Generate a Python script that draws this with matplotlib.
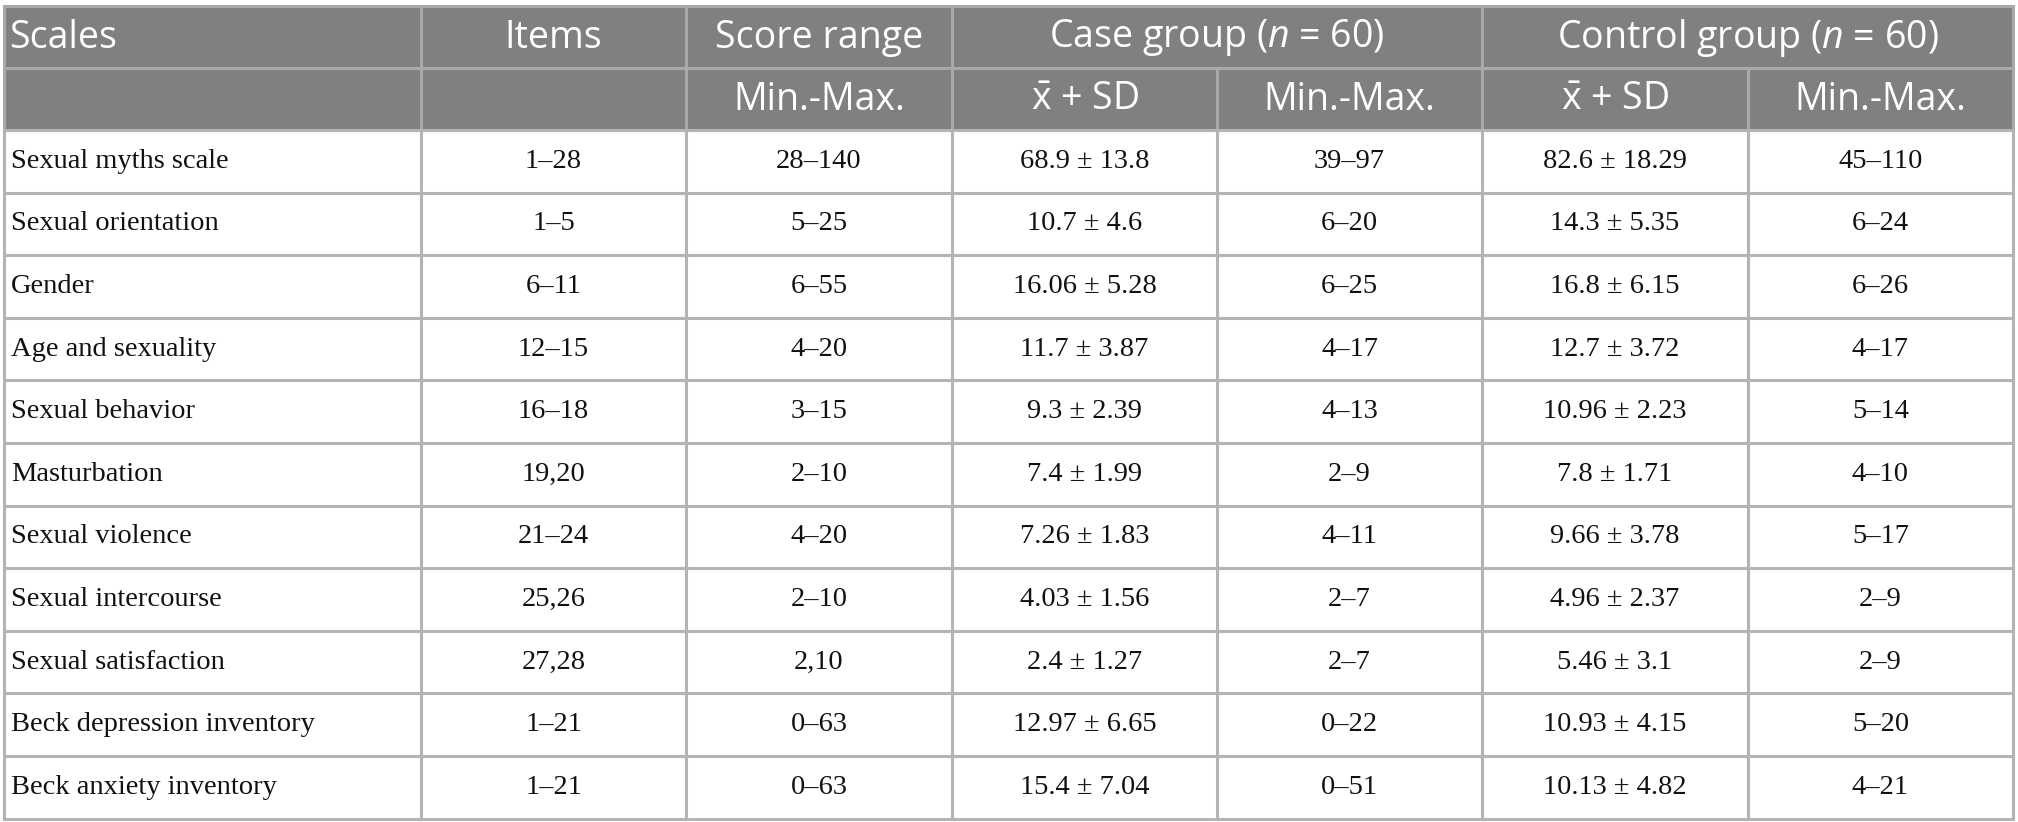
import matplotlib.pyplot as plt
from matplotlib.patches import Rectangle

plt.rcParams['mathtext.fontset'] = 'custom'
plt.rcParams['mathtext.rm'] = 'Open Sans'
plt.rcParams['mathtext.it'] = 'Open Sans:italic'

# table contents
scales = ["Sexual myths scale", "Sexual orientation", "Gender", "Age and sexuality",
          "Sexual behavior", "Masturbation", "Sexual violence", "Sexual intercourse",
          "Sexual satisfaction", "Beck depression inventory", "Beck anxiety inventory"]
items = ["1–28", "1–5", "6–11", "12–15", "16–18", "19,20", "21–24", "25,26", "27,28",
         "1–21", "1–21"]
score_range = ["28–140", "5–25", "6–55", "4–20", "3–15", "2–10", "4–20", "2–10", "2,10",
               "0–63", "0–63"]
case_mean = ["68.9", "10.7", "16.06", "11.7", "9.3", "7.4", "7.26", "4.03", "2.4", "12.97", "15.4"]
case_sd = ["13.8", "4.6", "5.28", "3.87", "2.39", "1.99", "1.83", "1.56", "1.27", "6.65", "7.04"]
case_range = ["39–97", "6–20", "6–25", "4–17", "4–13", "2–9", "4–11", "2–7", "2–7", "0–22", "0–51"]
ctrl_mean = ["82.6", "14.3", "16.8", "12.7", "10.96", "7.8", "9.66", "4.96", "5.46", "10.93", "10.13"]
ctrl_sd = ["18.29", "5.35", "6.15", "3.72", "2.23", "1.71", "3.78", "2.37", "3.1", "4.15", "4.82"]
ctrl_range = ["45–110", "6–24", "6–26", "4–17", "5–14", "4–10", "5–17", "2–9", "2–9", "5–20", "4–21"]

header_top = ["Scales", "Items", "Score range", "Case group ($n$ = 60)", "Control group ($n$ = 60)"]
header_sub = ["", "", "Min.-Max.", r"$\bar{\mathrm{x}}$ + SD", "Min.-Max.",
              r"$\bar{\mathrm{x}}$ + SD", "Min.-Max."]

W, H = 2018, 822
fig = plt.figure(figsize=(W / 100, H / 100), dpi=100)
ax = fig.add_axes([0, 0, 1, 1])
ax.set_xlim(0, W)
ax.set_ylim(H, 0)
ax.axis('off')

xs = [4, 421, 686, 952, 1217, 1482, 1748, 2013]
y0, y1, y2 = 6, 68, 130
row_h = 62.6
n = len(scales)
ybot = y2 + n * row_h

head_bg = '#808080'
head_line = '#a9a9a9'
body_line = '#b4b4b4'
txt = '#111111'

ax.add_patch(Rectangle((xs[0], y0), xs[-1] - xs[0], y2 - y0, color=head_bg, zorder=0))

# header grid
ax.plot([xs[0], xs[-1]], [y0, y0], color=head_line, lw=2.2)
ax.plot([xs[0], xs[-1]], [y1, y1], color=head_line, lw=2.2)
for i, x in enumerate(xs):
    top = y0 if i in (0, 1, 2, 3, 5, 7) else y1
    ax.plot([x, x], [top, y2], color=head_line, lw=2.2)

# body grid
for r in range(n + 1):
    y = y2 + r * row_h
    ax.plot([xs[0], xs[-1]], [y, y], color=body_line, lw=2.2)
for x in xs:
    ax.plot([x, x], [y2, ybot], color=body_line, lw=2.2)

hfont = dict(family='Open Sans', fontsize=27, color='white', va='center')
ym1 = (y0 + y1) / 2 + 1
ym2 = (y1 + y2) / 2 + 1
ax.text(xs[0] + 5, ym1, header_top[0], ha='left', **hfont)
ax.text((xs[1] + xs[2]) / 2, ym1, header_top[1], ha='center', **hfont)
ax.text((xs[2] + xs[3]) / 2, ym1, header_top[2], ha='center', **hfont)
ax.text((xs[3] + xs[5]) / 2, ym1, header_top[3], ha='center', **hfont)
ax.text((xs[5] + xs[7]) / 2, ym1, header_top[4], ha='center', **hfont)
for c, lab in enumerate(header_sub):
    if lab:
        ax.text((xs[c] + xs[c + 1]) / 2, ym2, lab, ha='center', **hfont)

bfont = dict(family='Liberation Serif', fontsize=20.5, color=txt, va='center')
for r in range(n):
    ym = y2 + (r + 0.5) * row_h
    ax.text(xs[0] + 7, ym, scales[r], ha='left', **bfont)
    cells = [items[r], score_range[r],
             f"{case_mean[r]} ± {case_sd[r]}", case_range[r],
             f"{ctrl_mean[r]} ± {ctrl_sd[r]}", ctrl_range[r]]
    for c, val in enumerate(cells):
        ax.text((xs[c + 1] + xs[c + 2]) / 2, ym, val, ha='center', **bfont)

fig.savefig('out.png', dpi=100)
